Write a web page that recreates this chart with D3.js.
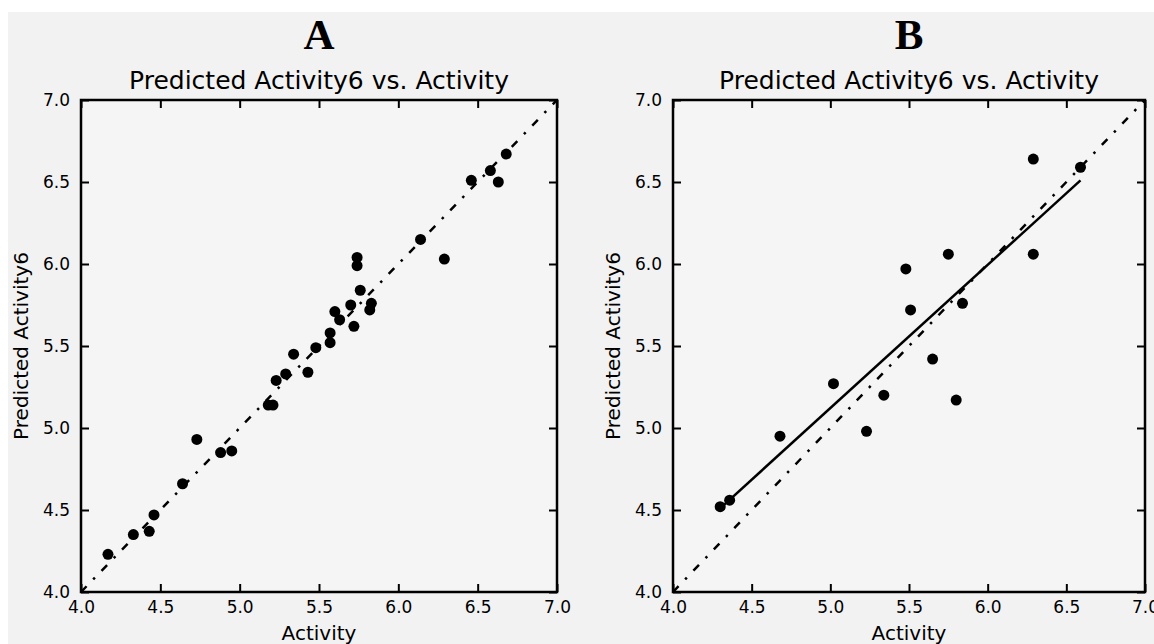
<!doctype html>
<html>
<head>
<meta charset="utf-8"/>
<title>Predicted Activity6 vs. Activity</title>
<script src="https://d3js.org/d3.v7.min.js"></script>
<style>
  body { margin: 0; background: #ffffff; }
  text { font-family: "DejaVu Sans", sans-serif; fill: #000; }
</style>
</head>
<body>
<div id="chart"></div>
<script>
// axis ticks (both axes, both panels)
var ticks = [4.0, 4.5, 5.0, 5.5, 6.0, 6.5, 7.0];

// panel A: activity vs predicted activity6 (training set)
var actA  = [4.17, 4.33, 4.43, 4.46, 4.64, 4.73, 4.88, 4.95, 5.18, 5.21, 5.23, 5.29, 5.34, 5.43, 5.48,
             5.57, 5.57, 5.60, 5.63, 5.70, 5.72, 5.74, 5.74, 5.76, 5.82, 5.83, 6.14, 6.29, 6.46, 6.58, 6.63, 6.68];
var predA = [4.23, 4.35, 4.37, 4.47, 4.66, 4.93, 4.85, 4.86, 5.14, 5.14, 5.29, 5.33, 5.45, 5.34, 5.49,
             5.52, 5.58, 5.71, 5.66, 5.75, 5.62, 5.99, 6.04, 5.84, 5.72, 5.76, 6.15, 6.03, 6.51, 6.57, 6.50, 6.67];

// panel B: test set
var actB  = [4.30, 4.36, 4.68, 5.02, 5.23, 5.34, 5.48, 5.51, 5.65, 5.75, 5.80, 5.84, 6.29, 6.29, 6.59];
var predB = [4.52, 4.56, 4.95, 5.27, 4.98, 5.20, 5.97, 5.72, 5.42, 6.06, 5.17, 5.76, 6.64, 6.06, 6.59];

// fitted line in panel B (end points)
var fitBx = [4.30, 6.59];
var fitBy = [4.51, 6.51];

// identity line
var diag = [4.0, 7.0];

var W = 1154, H = 644;

var svg = d3.select("#chart").append("svg")
    .attr("width", W)
    .attr("height", H);

// figure background
svg.append("rect").attr("x", 0).attr("y", 0).attr("width", W).attr("height", H).attr("fill", "#ffffff");
svg.append("rect").attr("x", 8).attr("y", 12).attr("width", W - 8).attr("height", H - 12).attr("fill", "#f2f2f2");

drawPanel({letter: "A", left: 81, right: 557, xs: actA, ys: predA, fit: false, id: "a"});
drawPanel({letter: "B", left: 673, right: 1145, xs: actB, ys: predB, fit: true, id: "b"});

function drawPanel(p)
{
    var top = 100, bottom = 592;
    var mid = (p.left + p.right) / 2;

    var x = d3.scaleLinear().domain([4, 7]).range([p.left, p.right]);
    var y = d3.scaleLinear().domain([4, 7]).range([bottom, top]);

    var g = svg.append("g");

    svg.append("clipPath").attr("id", "clip-" + p.id)
      .append("rect")
        .attr("x", p.left).attr("y", top)
        .attr("width", p.right - p.left).attr("height", bottom - top);

    // plot area
    g.append("rect")
        .attr("x", p.left).attr("y", top)
        .attr("width", p.right - p.left).attr("height", bottom - top)
        .attr("fill", "#f5f5f5");

    var line = d3.line().x(function(d) { return x(d[0]); }).y(function(d) { return y(d[1]); });

    // dash-dot identity line
    g.append("path")
        .attr("clip-path", "url(#clip-" + p.id + ")")
        .attr("d", line([[diag[0], diag[0]], [diag[1], diag[1]]]))
        .attr("fill", "none")
        .attr("stroke", "#000")
        .attr("stroke-width", 2.5)
        .attr("stroke-dasharray", "8,9.5,2.5,9.5");

    if (p.fit)
    {
        g.append("path")
            .attr("d", line([[fitBx[0], fitBy[0]], [fitBx[1], fitBy[1]]]))
            .attr("fill", "none")
            .attr("stroke", "#000")
            .attr("stroke-width", 2.5);
    }

    // points
    g.selectAll("circle.pt")
        .data(d3.range(p.xs.length))
        .enter().append("circle")
        .attr("class", "pt")
        .attr("cx", function(i) { return x(p.xs[i]); })
        .attr("cy", function(i) { return y(p.ys[i]); })
        .attr("r", 5.5)
        .attr("fill", "#000");

    // axes: inward ticks on all four sides
    var tl = 8;
    g.append("g").attr("transform", "translate(0," + bottom + ")")
        .call(d3.axisBottom(x).tickValues(ticks).tickSize(-tl).tickPadding(9).tickFormat(d3.format(".1f")));
    g.append("g").attr("transform", "translate(0," + top + ")")
        .call(d3.axisTop(x).tickValues(ticks).tickSize(-tl).tickFormat(""));
    g.append("g").attr("transform", "translate(" + p.left + ",0)")
        .call(d3.axisLeft(y).tickValues(ticks).tickSize(-tl).tickPadding(11).tickFormat(d3.format(".1f")));
    g.append("g").attr("transform", "translate(" + p.right + ",0)")
        .call(d3.axisRight(y).tickValues(ticks).tickSize(-tl).tickFormat(""));

    g.selectAll(".domain").remove();
    g.selectAll(".tick line").attr("stroke", "#000").attr("stroke-width", 2);
    g.selectAll(".tick text")
        .style("font-family", "'DejaVu Sans', sans-serif")
        .style("font-size", "17px")
        .style("fill", "#000");

    // frame
    g.append("rect")
        .attr("x", p.left).attr("y", top)
        .attr("width", p.right - p.left).attr("height", bottom - top)
        .attr("fill", "none")
        .attr("stroke", "#000")
        .attr("stroke-width", 2.5);

    // titles
    svg.append("text")
        .attr("x", mid).attr("y", 49)
        .attr("text-anchor", "middle")
        .style("font-family", "'Liberation Serif', 'Times New Roman', serif")
        .style("font-weight", "bold")
        .style("font-size", "43px")
        .text(p.letter);

    svg.append("text")
        .attr("x", mid).attr("y", 89)
        .attr("text-anchor", "middle")
        .style("font-size", "25px")
        .text("Predicted Activity6 vs. Activity");

    svg.append("text")
        .attr("x", mid).attr("y", 640)
        .attr("text-anchor", "middle")
        .style("font-size", "20px")
        .text("Activity");

    svg.append("text")
        .attr("transform", "translate(" + (p.left - 53) + "," + ((top + bottom) / 2) + ") rotate(-90)")
        .attr("text-anchor", "middle")
        .style("font-size", "20px")
        .text("Predicted Activity6");
}
</script>
</body>
</html>
